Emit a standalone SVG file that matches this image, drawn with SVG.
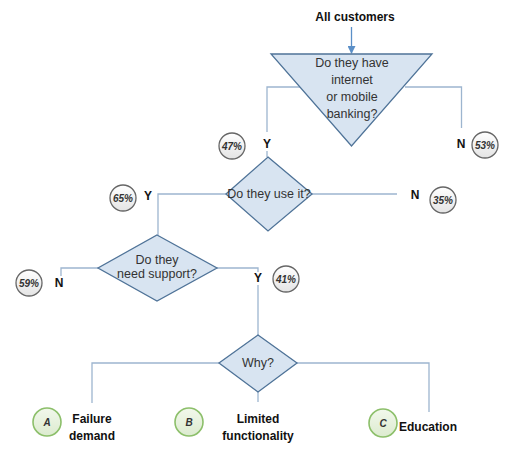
<svg xmlns="http://www.w3.org/2000/svg" width="510" height="459" viewBox="0 0 510 459">
<defs>
<marker id="arr" markerWidth="8" markerHeight="8" refX="7" refY="4" orient="auto" markerUnits="userSpaceOnUse">
<path d="M0,0 L8,4 L0,8 Z" fill="#5b8fc7"/>
</marker>
<linearGradient id="pg" x1="0" y1="0" x2="0" y2="1"><stop offset="0" stop-color="#ffffff"/><stop offset="1" stop-color="#e4e4e4"/></linearGradient>
<linearGradient id="gg" x1="0" y1="0" x2="0" y2="1"><stop offset="0" stop-color="#f2f8ec"/><stop offset="1" stop-color="#dcebcf"/></linearGradient>
</defs>
<style>
.c{fill:none;stroke:#9db5cf;stroke-width:1.3}
.s{fill:#d8e4f1;stroke:#4f7398;stroke-width:1.3}
.t{font-family:"Liberation Sans",Arial,sans-serif;font-size:12.5px;fill:#333;text-anchor:middle}
.b{font-family:"Liberation Sans",Arial,sans-serif;font-size:12px;font-weight:bold;fill:#111;text-anchor:middle}
.p{fill:url(#pg);stroke:#666;stroke-width:1.3}
.pt{font-family:"Liberation Sans",Arial,sans-serif;font-size:10px;font-weight:bold;font-style:italic;fill:#333;text-anchor:middle}
.g{fill:url(#gg);stroke:#8cbf6a;stroke-width:1.6}
</style>
<g id="connectors">
<line x1="351.5" y1="27" x2="351.5" y2="53" stroke="#5b8fc7" stroke-width="1.3" marker-end="url(#arr)"/>
<polyline class="c" points="300,87 267,87 267,132"/>
<line class="c" x1="267" y1="151" x2="267" y2="157"/>
<polyline class="c" points="405,87 461.5,87 461.5,128"/>
<polyline class="c" points="312,194 397,194"/>
<polyline class="c" points="226,194 158,194 158,235"/>
<polyline class="c" points="98,268 61,268 61,276"/>
<polyline class="c" points="217,268 258,268 258,272"/>
<line class="c" x1="258" y1="285" x2="258" y2="335"/>
<polyline class="c" points="219,363 92,363 92,403"/>
<polyline class="c" points="297,363 429,363 429,412"/>
<line class="c" x1="258" y1="392" x2="258" y2="402"/>
</g>
<g id="start"><text class="b" x="355" y="21">All customers</text></g>
<g id="q1">
<polygon class="s" points="271,54 432,54 351.5,146"/>
<text class="t" x="352" y="67">Do they have</text>
<text class="t" x="352" y="84">internet</text>
<text class="t" x="352" y="101">or mobile</text>
<text class="t" x="352" y="118">banking?</text>
</g>
<g id="q2">
<polygon class="s" points="268,157 312,194 268,231 226,194"/>
<text class="t" x="269" y="198">Do they use it?</text>
</g>
<g id="q3">
<polygon class="s" points="157,235 217,268 157,301 98,268"/>
<text class="t" x="157" y="264">Do they</text>
<text class="t" x="157" y="278">need support?</text>
</g>
<g id="q4">
<polygon class="s" points="258,335 297,363 258,392 219,363"/>
<text class="t" x="258" y="367">Why?</text>
</g>
<g id="labels">
<text class="b" x="267" y="148">Y</text>
<text class="b" x="461" y="148">N</text>
<text class="b" x="148" y="200">Y</text>
<text class="b" x="415" y="199">N</text>
<text class="b" x="59" y="287">N</text>
<text class="b" x="258" y="282">Y</text>
</g>
<g id="p47"><circle class="p" cx="232" cy="146" r="13"/><text class="pt" x="232" y="149.5">47%</text></g>
<g id="p53"><circle class="p" cx="485" cy="145" r="13"/><text class="pt" x="485" y="148.5">53%</text></g>
<g id="p65"><circle class="p" cx="123" cy="198" r="13"/><text class="pt" x="123" y="201.5">65%</text></g>
<g id="p35"><circle class="p" cx="443" cy="200" r="13"/><text class="pt" x="443" y="203.5">35%</text></g>
<g id="p59"><circle class="p" cx="29" cy="283" r="13"/><text class="pt" x="29" y="286.5">59%</text></g>
<g id="p41"><circle class="p" cx="286" cy="279" r="13"/><text class="pt" x="286" y="282.5">41%</text></g>
<g id="a"><circle class="g" cx="47" cy="422" r="14"/><text class="pt" x="47" y="425.5">A</text>
<text class="b" x="92" y="423">Failure</text><text class="b" x="92" y="440">demand</text></g>
<g id="b"><circle class="g" cx="189" cy="422" r="14"/><text class="pt" x="189" y="425.5">B</text>
<text class="b" x="258" y="423">Limited</text><text class="b" x="258" y="440">functionality</text></g>
<g id="c"><circle class="g" cx="383" cy="423" r="14"/><text class="pt" x="383" y="426.5">C</text>
<text class="b" x="428" y="431">Education</text></g>
</svg>
